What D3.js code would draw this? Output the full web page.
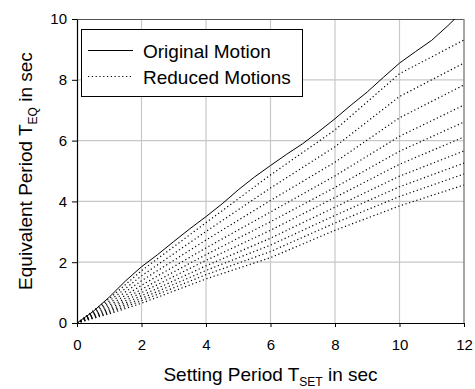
<!DOCTYPE html>
<html>
<head>
<meta charset="utf-8">
<script src="https://cdn.jsdelivr.net/npm/d3@7"></script>
<style>
	body { margin: 0; background: #fff; }
	svg { display: block; font-family: 'Liberation Sans', Arial, sans-serif; }
	.grid line { stroke: #c8c8c8; stroke-width: 1.2; }
	.tick text { fill: #000; }
</style>
</head>
<body>
<div class="chart"></div>
<script>
// setting period (x) where the original motion was read
const origX = [0, 0.5, 1, 1.5, 2, 2.5, 3, 3.5, 4, 4.5, 5, 5.5, 6, 6.5, 7, 7.5, 8, 8.5, 9, 9.5, 10, 10.5, 11, 11.5, 12]
const origY = [0, 0.38, 0.85, 1.38, 1.85, 2.25, 2.68, 3.1, 3.5, 3.92, 4.38, 4.8, 5.18, 5.55, 5.9, 6.3, 6.72, 7.17, 7.6, 8.08, 8.55, 8.93, 9.3, 9.78, 10.3]

// reduced motions, read at these x
const redX = [0, 1, 2, 4, 6, 8, 10, 12]
const reduced = [
	[0, 0.8, 1.72, 3.3, 4.87, 6.35, 8.2, 9.31],
	[0, 0.72, 1.55, 3.01, 4.44, 5.8, 7.45, 8.55],
	[0, 0.65, 1.39, 2.73, 4.03, 5.29, 6.75, 7.83],
	[0, 0.58, 1.24, 2.47, 3.65, 4.84, 6.14, 7.17],
	[0, 0.52, 1.11, 2.25, 3.33, 4.46, 5.65, 6.61],
	[0, 0.47, 1.0, 2.06, 3.05, 4.13, 5.22, 6.12],
	[0, 0.42, 0.9, 1.88, 2.79, 3.81, 4.83, 5.66],
	[0, 0.38, 0.81, 1.73, 2.56, 3.54, 4.48, 5.26],
	[0, 0.34, 0.73, 1.59, 2.35, 3.29, 4.16, 4.9],
	[0, 0.3, 0.65, 1.45, 2.15, 3.05, 3.85, 4.54]
]

const xTicks = [0, 2, 4, 6, 8, 10, 12]
const yTicks = [0, 2, 4, 6, 8, 10]
const legendLabels = ['Original Motion', 'Reduced Motions']

const W = 475
const H = 389
const MARGIN = { top: 19, right: 11, bottom: 66, left: 77 }
const chartW = W - MARGIN.left - MARGIN.right
const chartH = H - MARGIN.top - MARGIN.bottom
const DOTS = '1.2,2.6'

const scale = {}
scale.x = d3.scaleLinear().domain([0, 12]).range([0, chartW])
scale.y = d3.scaleLinear().domain([0, 10]).range([chartH, 0])

const svg = d3.select('.chart').append('svg')
	.attr('width', W)
	.attr('height', H)

const chart = svg.append('g')
	.attr('transform', `translate(${MARGIN.left},${MARGIN.top})`)

chart.append('clipPath').attr('id', 'plot-clip')
	.append('rect')
	.attr('width', chartW)
	.attr('height', chartH)

// grid
const grid = chart.append('g').attr('class', 'grid')
grid.selectAll('.gx').data(xTicks.slice(1, -1)).enter()
	.append('line')
	.attr('x1', d => scale.x(d)).attr('x2', d => scale.x(d))
	.attr('y1', 0).attr('y2', chartH)
grid.selectAll('.gy').data(yTicks.slice(1, -1)).enter()
	.append('line')
	.attr('y1', d => scale.y(d)).attr('y2', d => scale.y(d))
	.attr('x1', 0).attr('x2', chartW)

// frame top / right
chart.append('line')
	.attr('x1', 0).attr('x2', chartW).attr('y1', 0.5).attr('y2', 0.5)
	.attr('stroke', '#555')
chart.append('line')
	.attr('x1', chartW).attr('x2', chartW).attr('y1', 0).attr('y2', chartH)
	.attr('stroke', '#888').attr('stroke-width', 1.5)

// lines
const line = d3.line()
	.x(d => scale.x(d[0]))
	.y(d => scale.y(d[1]))

const lines = chart.append('g').attr('clip-path', 'url(#plot-clip)')

lines.selectAll('.reduced').data(reduced).enter()
	.append('path')
	.attr('class', 'reduced')
	.attr('d', d => line(redX.map((x, i) => [x, d[i]])))
	.attr('fill', 'none')
	.attr('stroke', '#000')
	.attr('stroke-width', 1.2)
	.attr('stroke-dasharray', DOTS)

lines.append('path')
	.attr('d', line(origX.map((x, i) => [x, origY[i]])))
	.attr('fill', 'none')
	.attr('stroke', '#000')
	.attr('stroke-width', 1)

// axes
chart.append('g')
	.attr('transform', `translate(0,${chartH})`)
	.call(d3.axisBottom(scale.x).tickValues(xTicks).tickSize(4).tickSizeOuter(0).tickPadding(12))
chart.append('g')
	.call(d3.axisLeft(scale.y).tickValues(yTicks).tickSize(5).tickSizeOuter(0).tickPadding(5))

svg.selectAll('.domain').attr('stroke', '#000').attr('stroke-width', 1.2)
svg.selectAll('.tick line').attr('stroke', '#000')
svg.selectAll('.tick text').style('font-size', '15px').style('font-family', '"Liberation Sans", Arial, sans-serif')

// axis titles
const xTitle = svg.append('text')
	.attr('x', MARGIN.left + chartW / 2)
	.attr('y', 381)
	.attr('text-anchor', 'middle')
	.style('font-size', '19px')
xTitle.append('tspan').text('Setting Period T')
xTitle.append('tspan').attr('dy', 5).style('font-size', '12px').text('SET')
xTitle.append('tspan').attr('dy', -5).text(' in sec')

const yTitle = svg.append('text')
	.attr('transform', `translate(32,${MARGIN.top + chartH / 2}) rotate(-90)`)
	.attr('text-anchor', 'middle')
	.style('font-size', '19px')
yTitle.append('tspan').text('Equivalent Period T')
yTitle.append('tspan').attr('dy', 5).style('font-size', '12px').text('EQ')
yTitle.append('tspan').attr('dy', -5).text(' in sec')

// legend
const legend = svg.append('g').attr('class', 'legend')
legend.append('rect')
	.attr('x', 81.5).attr('y', 29.5)
	.attr('width', 221).attr('height', 67)
	.attr('fill', '#fff')
	.attr('stroke', '#000')

const item = legend.selectAll('.item').data(legendLabels).enter()
	.append('g')
	.attr('transform', (d, i) => `translate(0,${50.5 + i * 26})`)
item.append('line')
	.attr('x1', 88).attr('x2', 133)
	.attr('stroke', '#000')
	.attr('stroke-width', (d, i) => i === 0 ? 1 : 1.2)
	.attr('stroke-dasharray', (d, i) => i === 0 ? null : DOTS)
item.append('text')
	.attr('x', 143)
	.attr('y', 7)
	.style('font-size', '19px')
	.text(d => d)
</script>
</body>
</html>
